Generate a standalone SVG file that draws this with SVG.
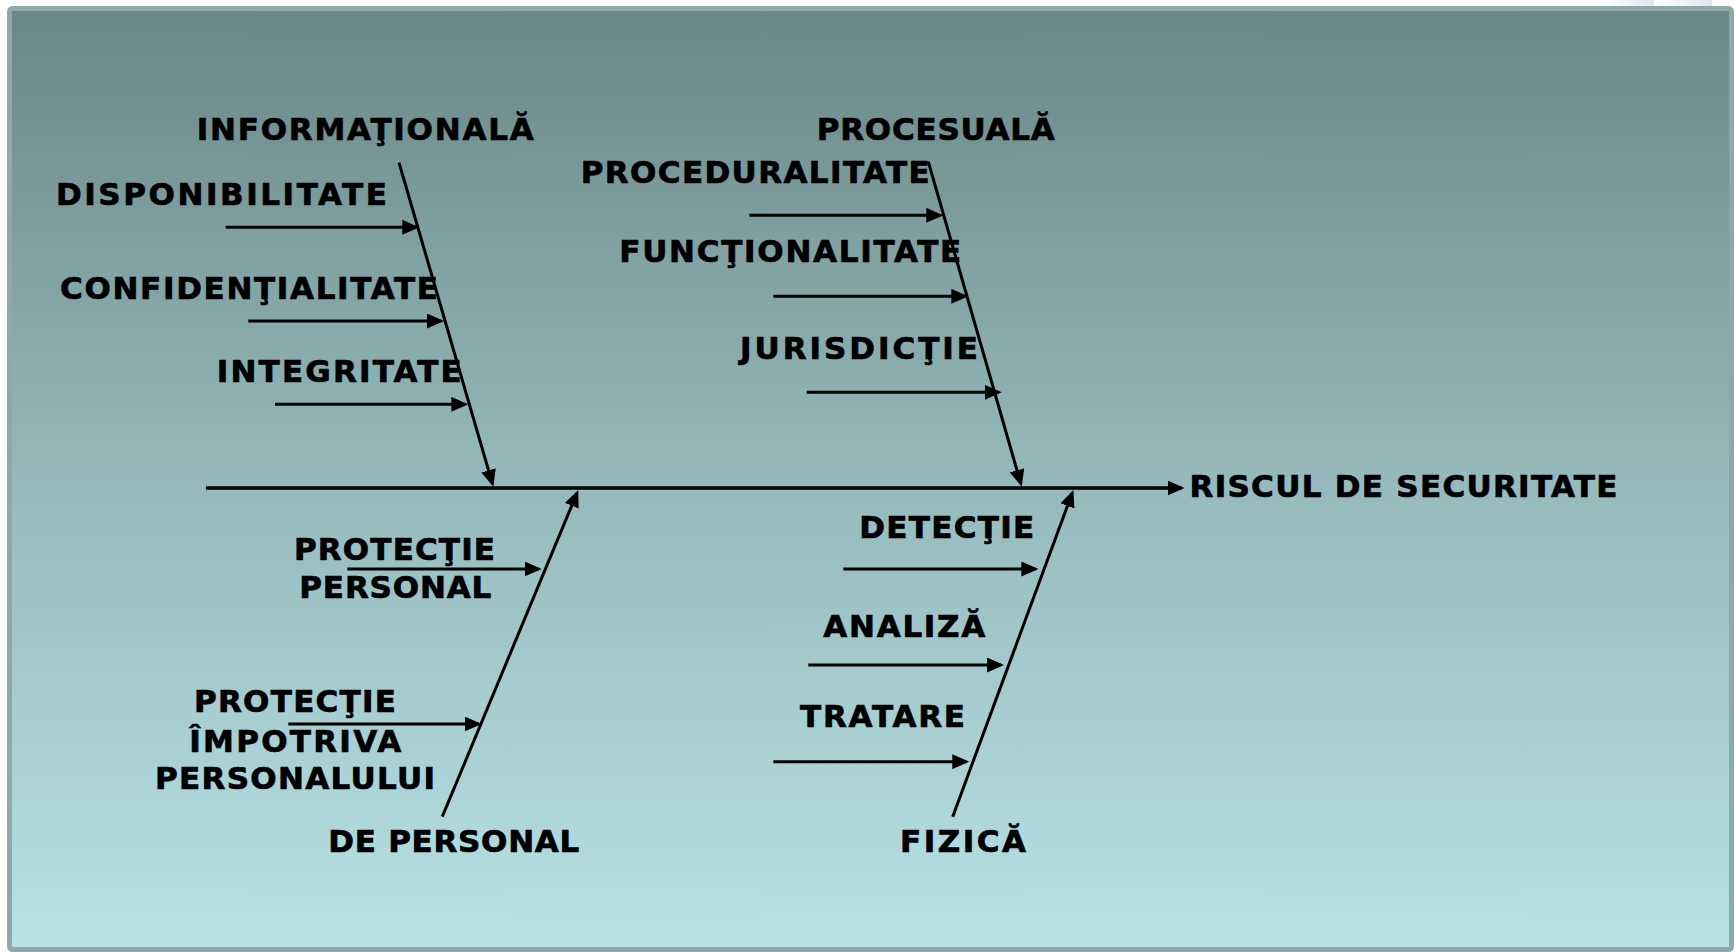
<svg xmlns="http://www.w3.org/2000/svg" width="1735" height="952" viewBox="0 0 1735 952">
  <defs>
    <linearGradient id="bg" x1="0" y1="0" x2="0" y2="1">
      <stop offset="0" stop-color="#6b8686"/>
      <stop offset="0.5" stop-color="#95b9bc"/>
      <stop offset="1" stop-color="#b8e2e6"/>
    </linearGradient>
    <linearGradient id="strip" x1="0" y1="0" x2="1" y2="0">
      <stop offset="0" stop-color="#ffffff"/>
      <stop offset="1" stop-color="#dfe5ee"/>
    </linearGradient>
    <marker id="ah" viewBox="0 0 17 15" markerWidth="17" markerHeight="15" markerUnits="userSpaceOnUse" refX="14" refY="7.5" orient="auto">
      <path d="M0 0 L17 7.5 L0 15 z" fill="#000"/>
    </marker>
    <style>
      .t { font-family: "DejaVu Sans", Verdana, "Liberation Sans", sans-serif; font-weight: bold; font-size: 31px; fill: #000; stroke: #000; stroke-width: 0.7; }
      .ln { stroke: #000; stroke-width: 3; fill: none; }
      .main { stroke: #000; stroke-width: 3.4; fill: none; }
    </style>
  </defs>
  <rect x="0" y="0" width="1735" height="952" fill="#ffffff"/>
  <rect x="1604" y="0" width="50" height="7" fill="url(#strip)"/>
  <rect x="1655" y="0" width="57" height="7" fill="url(#strip)"/>
  <rect x="9.5" y="8.5" width="1722" height="941" rx="3" fill="url(#bg)" stroke="#8fa9aa" stroke-width="5"/>

  <g id="connectors">
    <path class="main" d="M206 488 H1181.5" marker-end="url(#ah)"/>
    <path class="ln" d="M399 162.7 L492.5 483.8" marker-end="url(#ah)"/>
    <path class="ln" d="M928.3 161.7 L1020.9 483.8" marker-end="url(#ah)"/>
    <path class="ln" d="M442.3 816.7 L577.1 492.8" marker-end="url(#ah)"/>
    <path class="ln" d="M952.7 816.7 L1072.3 492.8" marker-end="url(#ah)"/>
    <path class="ln" d="M225.7 227.3 H416.3" marker-end="url(#ah)"/>
    <path class="ln" d="M248.3 321 H441" marker-end="url(#ah)"/>
    <path class="ln" d="M275 404.3 H465.3" marker-end="url(#ah)"/>
    <path class="ln" d="M749.3 215.3 H940.3" marker-end="url(#ah)"/>
    <path class="ln" d="M773.3 296.3 H965.3" marker-end="url(#ah)"/>
    <path class="ln" d="M806.7 392.3 H998.7" marker-end="url(#ah)"/>
    <path class="ln" d="M347.3 569 H538.7" marker-end="url(#ah)"/>
    <path class="ln" d="M288.3 724 H478.7" marker-end="url(#ah)"/>
    <path class="ln" d="M843.3 569 H1035.3" marker-end="url(#ah)"/>
    <path class="ln" d="M808.3 665 H1001" marker-end="url(#ah)"/>
    <path class="ln" d="M773.3 761.7 H966.3" marker-end="url(#ah)"/>
  </g>

  <g id="effect"><text class="t" x="1189.5" y="497" textLength="428" lengthAdjust="spacing">RISCUL DE SECURITATE</text></g>

  <g id="informationala">
    <text class="t" x="196.7" y="140" textLength="337" lengthAdjust="spacing">INFORMAŢIONALĂ</text>
  </g>
  <g id="disponibilitate"><text class="t" x="56" y="205" textLength="331" lengthAdjust="spacing">DISPONIBILITATE</text></g>
  <g id="confidentialitate"><text class="t" x="60" y="298.5" textLength="378" lengthAdjust="spacing">CONFIDENŢIALITATE</text></g>
  <g id="integritate"><text class="t" x="216.8" y="381.7" textLength="245" lengthAdjust="spacing">INTEGRITATE</text></g>

  <g id="procesuala">
    <text class="t" x="816.7" y="140" textLength="238" lengthAdjust="spacing">PROCESUALĂ</text>
  </g>
  <g id="proceduralitate"><text class="t" x="580.7" y="183.3" textLength="349" lengthAdjust="spacing">PROCEDURALITATE</text></g>
  <g id="functionalitate"><text class="t" x="619.3" y="262.3" textLength="342" lengthAdjust="spacing">FUNCŢIONALITATE</text></g>
  <g id="jurisdictie"><text class="t" x="740" y="359.3" textLength="238" lengthAdjust="spacing">JURISDICŢIE</text></g>

  <g id="de-personal">
    <text class="t" x="328.3" y="851.7" textLength="251" lengthAdjust="spacing">DE PERSONAL</text>
  </g>
  <g id="protectie-personal">
    <text class="t" x="294" y="560" textLength="201" lengthAdjust="spacing">PROTECŢIE</text>
    <text class="t" x="299.3" y="598.3" textLength="192" lengthAdjust="spacing">PERSONAL</text>
  </g>
  <g id="protectie-impotriva">
    <text class="t" x="194" y="711.7" textLength="202" lengthAdjust="spacing">PROTECŢIE</text>
    <text class="t" x="189.3" y="751.7" textLength="212" lengthAdjust="spacing">ÎMPOTRIVA</text>
    <text class="t" x="155" y="789.3" textLength="280" lengthAdjust="spacing">PERSONALULUI</text>
  </g>

  <g id="fizica">
    <text class="t" x="900" y="851.7" textLength="126" lengthAdjust="spacing">FIZICĂ</text>
  </g>
  <g id="detectie"><text class="t" x="859.3" y="538.3" textLength="175" lengthAdjust="spacing">DETECŢIE</text></g>
  <g id="analiza"><text class="t" x="823.3" y="636.7" textLength="162" lengthAdjust="spacing">ANALIZĂ</text></g>
  <g id="tratare"><text class="t" x="800" y="726.7" textLength="165" lengthAdjust="spacing">TRATARE</text></g>
</svg>
